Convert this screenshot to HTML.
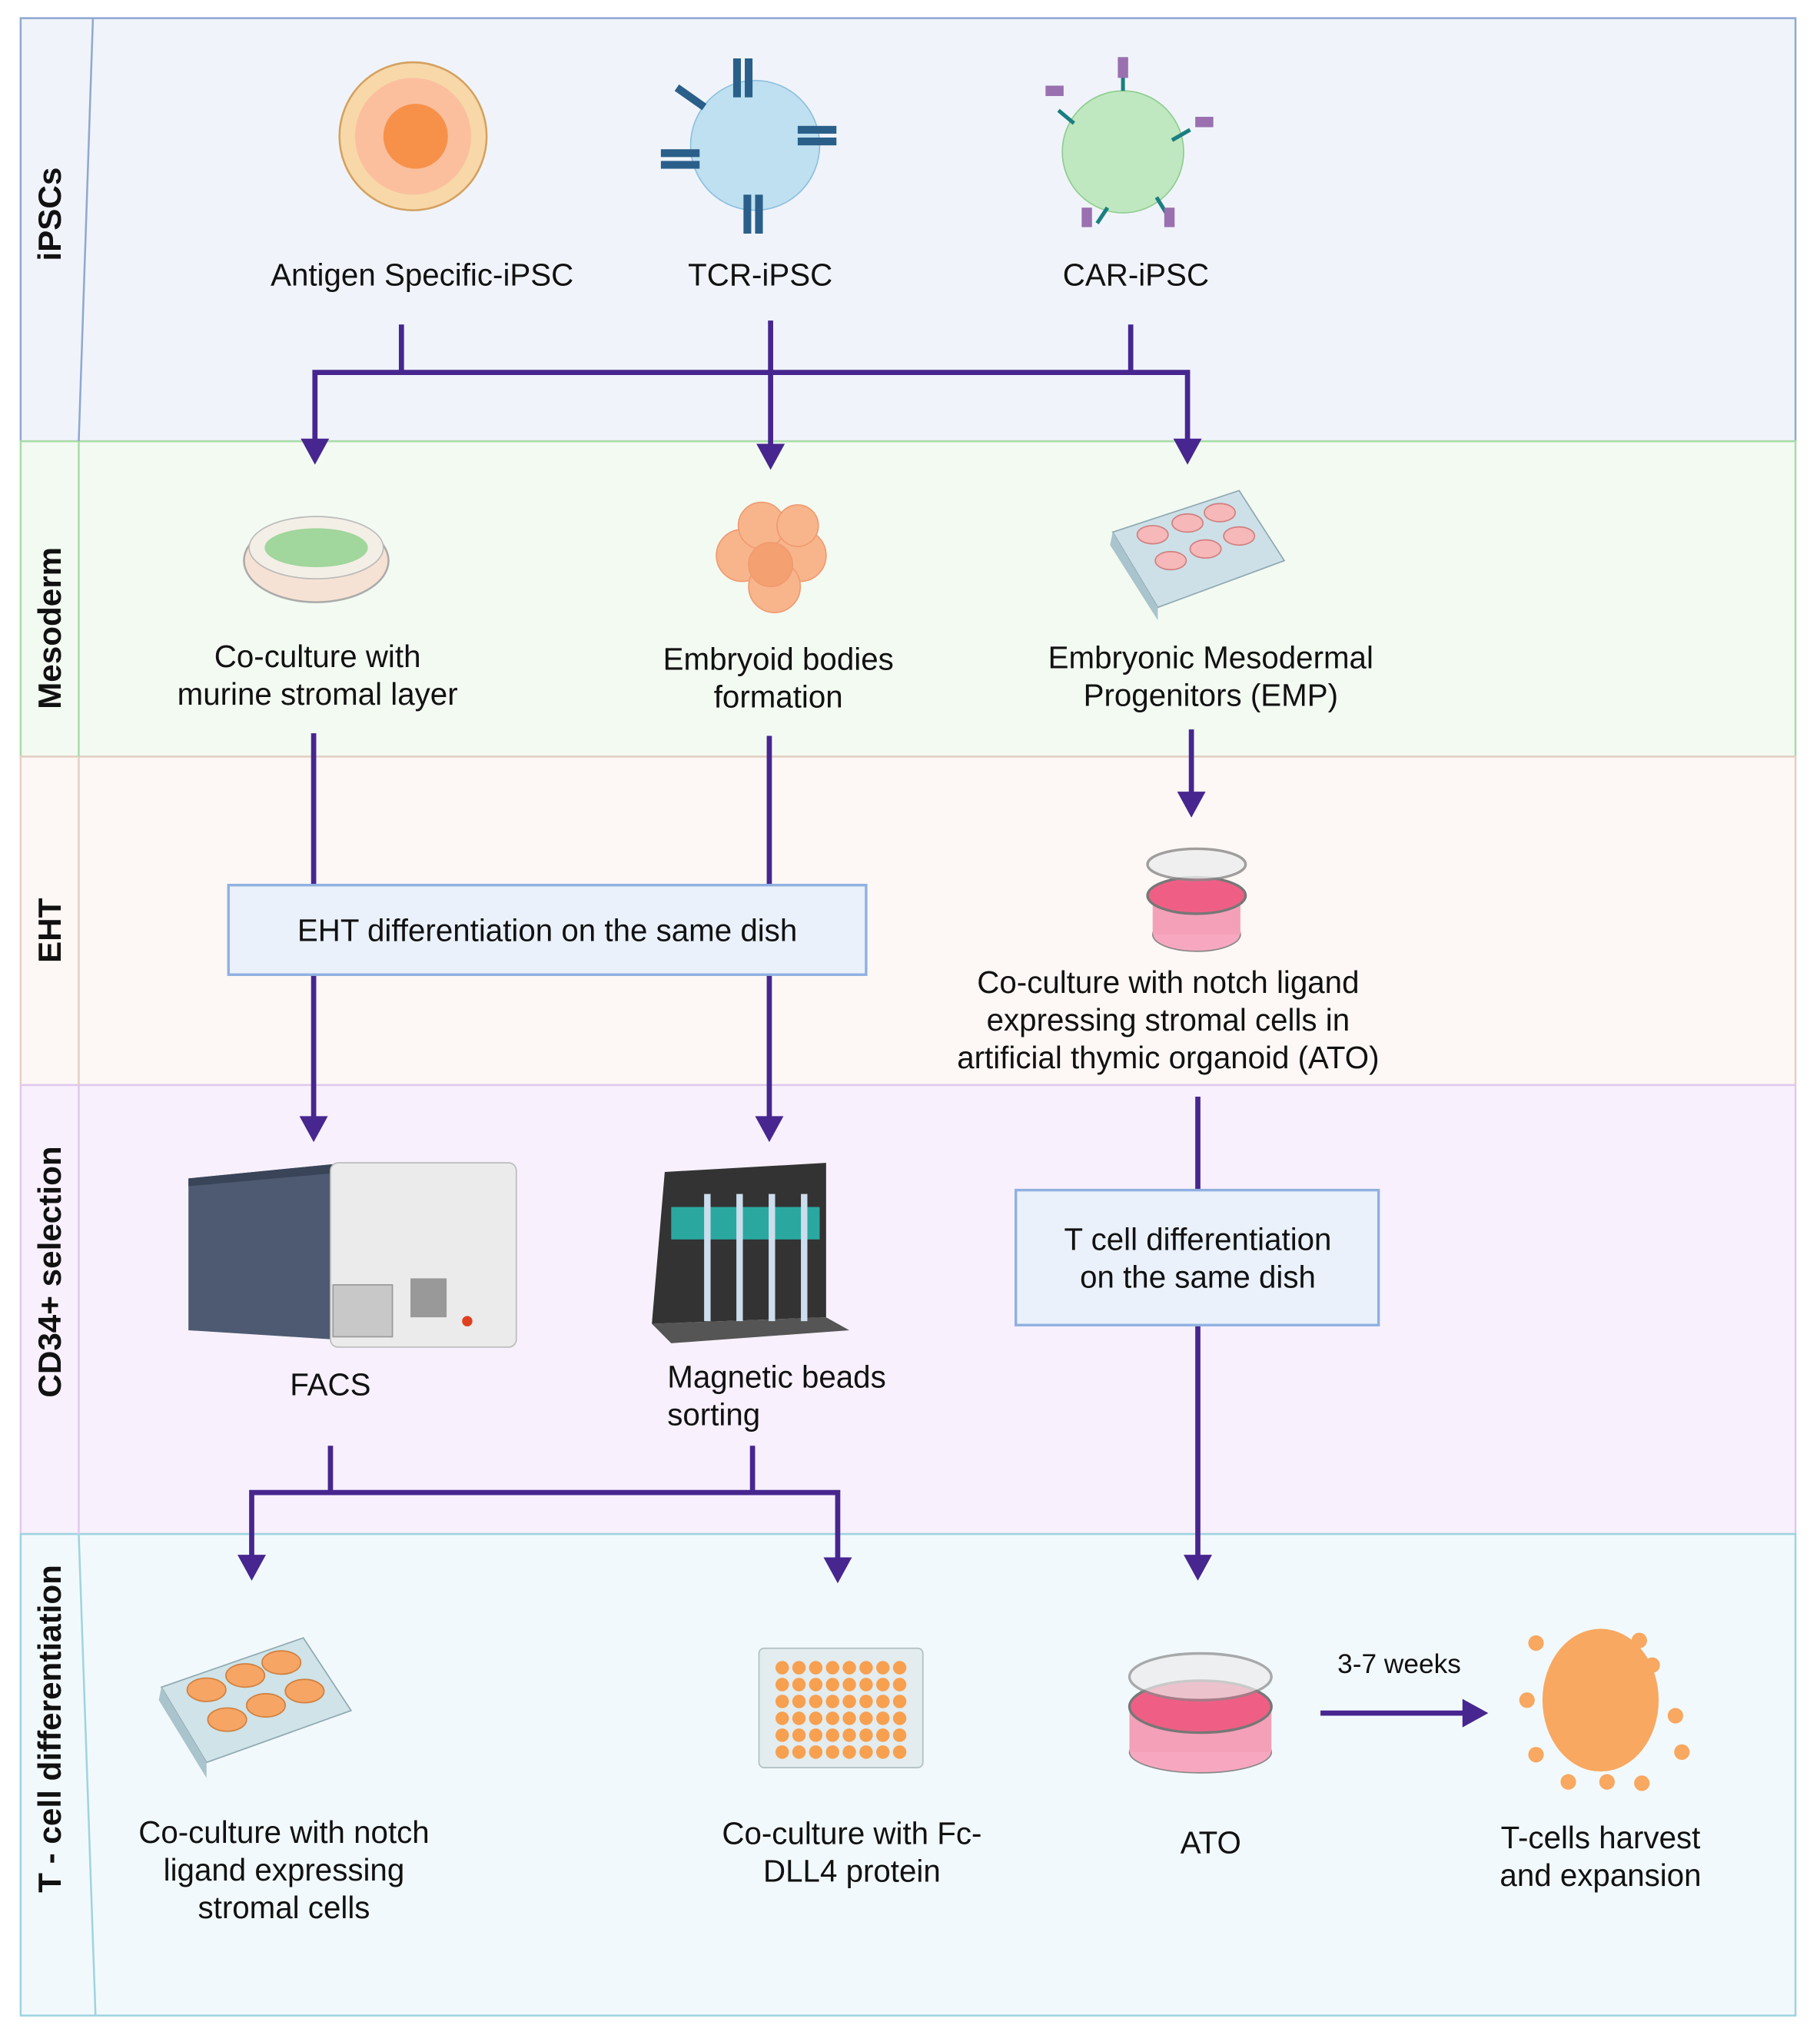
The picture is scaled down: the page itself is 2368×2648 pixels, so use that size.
<!DOCTYPE html>
<html><head><meta charset="utf-8"><style>
html,body{margin:0;padding:0;background:#fff;}
svg{display:block;}
text{font-family:"Liberation Sans",Arial,sans-serif;fill:#111;}
</style></head><body>
<svg width="2368" height="2648" viewBox="0 0 1410 1568" preserveAspectRatio="none" xmlns="http://www.w3.org/2000/svg">
<!-- lanes -->
<rect x="16" y="14" width="1375" height="326" fill="#f0f4fa" stroke="#8fa8d0" stroke-width="1.5"/>
<rect x="16" y="340" width="1375" height="243" fill="#f3faf2" stroke="#a8dca8" stroke-width="1.5"/>
<rect x="16" y="583" width="1375" height="253" fill="#fdf8f5" stroke="#e6cfc4" stroke-width="1.5"/>
<rect x="16" y="836" width="1375" height="346" fill="#f8f0fc" stroke="#e0c8ee" stroke-width="1.5"/>
<rect x="16" y="1182" width="1375" height="371" fill="#f2f9fc" stroke="#9ed4e0" stroke-width="1.5"/>
<line x1="72" y1="14" x2="61" y2="340" stroke="#8fa8d0" stroke-width="1.5"/>
<line x1="61" y1="340" x2="61" y2="583" stroke="#a8dca8" stroke-width="1.5"/>
<line x1="61" y1="583" x2="61" y2="836" stroke="#e6cfc4" stroke-width="1.5"/>
<line x1="61" y1="836" x2="61" y2="1182" stroke="#e0c8ee" stroke-width="1.5"/>
<line x1="61" y1="1182" x2="74" y2="1553" stroke="#9ed4e0" stroke-width="1.5"/>
<!-- lane labels -->
<g font-weight="bold" font-size="25" text-anchor="middle">
<text transform="translate(47,165) rotate(-90)">iPSCs</text>
<text transform="translate(47,484) rotate(-90)">Mesoderm</text>
<text transform="translate(47,717) rotate(-90)">EHT</text>
<text transform="translate(47,980) rotate(-90)">CD34+ selection</text>
<text transform="translate(47,1332) rotate(-90)">T - cell differentiation</text>
</g>

<!-- connectors -->
<g stroke="#47268f" stroke-width="4" fill="none">
<line x1="311" y1="250" x2="311" y2="287"/>
<line x1="876" y1="250" x2="876" y2="287"/>
<polyline points="244,340 244,287 920,287 920,340"/>
<line x1="597" y1="247" x2="597" y2="344"/>
<line x1="243" y1="565" x2="243" y2="682"/>
<line x1="596" y1="567" x2="596" y2="682"/>
<line x1="243" y1="751" x2="243" y2="862"/>
<line x1="596" y1="751" x2="596" y2="862"/>
<line x1="923" y1="562" x2="923" y2="612"/>
<line x1="928" y1="845" x2="928" y2="917"/>
<line x1="928" y1="1021" x2="928" y2="1200"/>
<line x1="256" y1="1114" x2="256" y2="1150"/>
<line x1="583" y1="1114" x2="583" y2="1150"/>
<polyline points="195,1200 195,1150 649,1150 649,1202"/>
<line x1="1023" y1="1320" x2="1135" y2="1320"/>
</g>
<g fill="#47268f">
<polygon points="233,338 255,338 244,358"/>
<polygon points="909,338 931,338 920,358"/>
<polygon points="586,342 608,342 597,362"/>
<polygon points="232,860 254,860 243,880"/>
<polygon points="585,860 607,860 596,880"/>
<polygon points="912,610 934,610 923,630"/>
<polygon points="917,1198 939,1198 928,1218"/>
<polygon points="184,1198 206,1198 195,1218"/>
<polygon points="638,1200 660,1200 649,1220"/>
<polygon points="1133,1309 1133,1331 1153,1320"/>
</g>

<!-- boxes -->
<rect x="177" y="682" width="494" height="69" fill="#eaf1fb" stroke="#8fb0e0" stroke-width="2"/>
<rect x="787" y="917" width="281" height="104" fill="#eaf1fb" stroke="#8fb0e0" stroke-width="2"/>

<!-- texts -->
<g font-size="24" text-anchor="middle">
<text x="327" y="220">Antigen Specific-iPSC</text>
<text x="589" y="220">TCR-iPSC</text>
<text x="880" y="220">CAR-iPSC</text>
<text x="246" y="514">Co-culture with</text>
<text x="246" y="543">murine stromal layer</text>
<text x="603" y="516">Embryoid bodies</text>
<text x="603" y="545">formation</text>
<text x="938" y="515">Embryonic Mesodermal</text>
<text x="938" y="544">Progenitors (EMP)</text>
<text x="424" y="725">EHT differentiation on the same dish</text>
<text x="905" y="765">Co-culture with notch ligand</text>
<text x="905" y="794">expressing stromal cells in</text>
<text x="905" y="823">artificial thymic organoid (ATO)</text>
<text x="928" y="963">T cell differentiation</text>
<text x="928" y="992">on the same dish</text>
<text x="256" y="1075">FACS</text>
<text x="220" y="1420">Co-culture with notch</text>
<text x="220" y="1449">ligand expressing</text>
<text x="220" y="1478">stromal cells</text>
<text x="660" y="1421">Co-culture with Fc-</text>
<text x="660" y="1450">DLL4 protein</text>
<text x="938" y="1428">ATO</text>
<text x="1240" y="1424">T-cells harvest</text>
<text x="1240" y="1453">and expansion</text>
<text x="1084" y="1289" font-size="21">3-7 weeks</text>
</g>
<text x="517" y="1069" font-size="24">Magnetic beads</text>
<text x="517" y="1098" font-size="24">sorting</text>

<!-- icons -->
<circle cx="320" cy="105" r="57" fill="#f8d8a8" stroke="#d4a060" stroke-width="1.5"/>
<circle cx="320" cy="105" r="45" fill="#fbbf9e"/>
<circle cx="322" cy="105" r="25" fill="#f7914a"/>
<circle cx="585" cy="112" r="50" fill="#bfe0f0" stroke="#8fc0e0"/>
<g fill="#2a5f8a">
<rect x="568" y="45" width="6" height="30"/><rect x="577" y="45" width="6" height="30"/>
<rect x="576" y="150" width="6" height="30"/><rect x="585" y="150" width="6" height="30"/>
<rect x="512" y="115" width="30" height="6"/><rect x="512" y="124" width="30" height="6"/>
<rect x="618" y="97" width="30" height="6"/><rect x="618" y="106" width="30" height="6"/>
<rect x="522" y="72" width="26" height="6" transform="rotate(35 535 75)"/>
</g>
<circle cx="870" cy="117" r="47" fill="#bfe8c0" stroke="#90cc90"/>
<g stroke="#1a7f80" stroke-width="3">
<line x1="870" y1="70" x2="870" y2="58"/><line x1="832" y1="95" x2="820" y2="85"/>
<line x1="908" y1="108" x2="922" y2="100"/><line x1="858" y1="160" x2="850" y2="172"/><line x1="896" y1="152" x2="904" y2="165"/>
</g>
<g fill="#9a70b0">
<rect x="866" y="44" width="8" height="16"/><rect x="810" y="66" width="14" height="8"/><rect x="926" y="90" width="14" height="8"/>
<rect x="838" y="160" width="8" height="15"/><rect x="902" y="160" width="8" height="15"/>
</g>
<ellipse cx="245" cy="432" rx="56" ry="32" fill="#f6e2d4" stroke="#aaa" stroke-width="1.5"/>
<ellipse cx="245" cy="422" rx="52" ry="24" fill="#f3efe6" stroke="#bbb"/>
<ellipse cx="245" cy="422" rx="40" ry="15" fill="#8ccf8a" opacity="0.8"/>
<g fill="#f8b58c" stroke="#f09a70">
<circle cx="575" cy="428" r="20"/><circle cx="620" cy="428" r="20"/><circle cx="590" cy="405" r="18"/><circle cx="618" cy="405" r="16"/><circle cx="600" cy="452" r="20"/><circle cx="597" cy="435" r="17" fill="#f5a070"/>
</g>
<polygon points="862,410 960,378 995,432 897,468" fill="#cde0e8" stroke="#8fa8b0"/>
<polygon points="862,410 897,468 897,478 860,420" fill="#a9c4cc"/>
<g fill="#f6b8b8" stroke="#d08080">
<ellipse cx="893" cy="412" rx="12" ry="7"/><ellipse cx="920" cy="403" rx="12" ry="7"/><ellipse cx="945" cy="395" rx="12" ry="7"/>
<ellipse cx="907" cy="432" rx="12" ry="7"/><ellipse cx="934" cy="423" rx="12" ry="7"/><ellipse cx="960" cy="413" rx="12" ry="7"/>
</g>
<ellipse cx="927" cy="720" rx="34" ry="13" fill="#f7a8c0" stroke="#888"/>
<rect x="893" y="690" width="68" height="30" fill="#f4a0b8"/>
<ellipse cx="927" cy="690" rx="38" ry="14" fill="#ef5f85" stroke="#777" stroke-width="2"/>
<ellipse cx="927" cy="666" rx="38" ry="12" fill="#eee" stroke="#888" stroke-width="2" opacity="0.8"/>
<polygon points="146,908 258,897 258,1032 146,1025" fill="#4d5a72"/>
<polygon points="146,908 258,897 258,904 146,914" fill="#3a4458"/>
<rect x="256" y="896" width="144" height="142" rx="6" fill="#ebebeb" stroke="#bbb"/>
<rect x="258" y="990" width="46" height="40" fill="#c8c8c8" stroke="#999"/>
<rect x="318" y="985" width="28" height="30" fill="#999"/>
<circle cx="362" cy="1018" r="4" fill="#e04020"/>
<polygon points="515,903 640,896 640,1015 505,1020" fill="#333"/>
<polygon points="505,1020 640,1015 658,1025 520,1035" fill="#555"/>
<rect x="520" y="930" width="115" height="25" fill="#2aa8a0"/>
<g stroke="#cde" stroke-width="5">
<line x1="548" y1="920" x2="548" y2="1018"/><line x1="573" y1="920" x2="573" y2="1018"/><line x1="598" y1="920" x2="598" y2="1018"/><line x1="623" y1="920" x2="623" y2="1018"/>
</g>
<polygon points="125,1300 235,1262 272,1318 160,1358" fill="#cfe3e8" stroke="#8fa8b0"/>
<polygon points="125,1300 160,1358 160,1370 123,1310" fill="#a9c4cc"/>
<g fill="#f7a564" stroke="#d08040">
<ellipse cx="160" cy="1302" rx="15" ry="9"/><ellipse cx="190" cy="1291" rx="15" ry="9"/><ellipse cx="218" cy="1281" rx="15" ry="9"/>
<ellipse cx="176" cy="1325" rx="15" ry="9"/><ellipse cx="206" cy="1314" rx="15" ry="9"/><ellipse cx="236" cy="1303" rx="15" ry="9"/>
</g>
<rect x="588" y="1270" width="127" height="92" rx="4" fill="#e3ecee" stroke="#b0c0c4"/>
<g fill="#f7a050">
<circle cx="606" cy="1285" r="5.2"/><circle cx="619" cy="1285" r="5.2"/><circle cx="632" cy="1285" r="5.2"/><circle cx="645" cy="1285" r="5.2"/><circle cx="658" cy="1285" r="5.2"/><circle cx="671" cy="1285" r="5.2"/><circle cx="684" cy="1285" r="5.2"/><circle cx="697" cy="1285" r="5.2"/>
<circle cx="606" cy="1298" r="5.2"/><circle cx="619" cy="1298" r="5.2"/><circle cx="632" cy="1298" r="5.2"/><circle cx="645" cy="1298" r="5.2"/><circle cx="658" cy="1298" r="5.2"/><circle cx="671" cy="1298" r="5.2"/><circle cx="684" cy="1298" r="5.2"/><circle cx="697" cy="1298" r="5.2"/>
<circle cx="606" cy="1311" r="5.2"/><circle cx="619" cy="1311" r="5.2"/><circle cx="632" cy="1311" r="5.2"/><circle cx="645" cy="1311" r="5.2"/><circle cx="658" cy="1311" r="5.2"/><circle cx="671" cy="1311" r="5.2"/><circle cx="684" cy="1311" r="5.2"/><circle cx="697" cy="1311" r="5.2"/>
<circle cx="606" cy="1324" r="5.2"/><circle cx="619" cy="1324" r="5.2"/><circle cx="632" cy="1324" r="5.2"/><circle cx="645" cy="1324" r="5.2"/><circle cx="658" cy="1324" r="5.2"/><circle cx="671" cy="1324" r="5.2"/><circle cx="684" cy="1324" r="5.2"/><circle cx="697" cy="1324" r="5.2"/>
<circle cx="606" cy="1337" r="5.2"/><circle cx="619" cy="1337" r="5.2"/><circle cx="632" cy="1337" r="5.2"/><circle cx="645" cy="1337" r="5.2"/><circle cx="658" cy="1337" r="5.2"/><circle cx="671" cy="1337" r="5.2"/><circle cx="684" cy="1337" r="5.2"/><circle cx="697" cy="1337" r="5.2"/>
<circle cx="606" cy="1350" r="5.2"/><circle cx="619" cy="1350" r="5.2"/><circle cx="632" cy="1350" r="5.2"/><circle cx="645" cy="1350" r="5.2"/><circle cx="658" cy="1350" r="5.2"/><circle cx="671" cy="1350" r="5.2"/><circle cx="684" cy="1350" r="5.2"/><circle cx="697" cy="1350" r="5.2"/>
</g>
<ellipse cx="930" cy="1350" rx="55" ry="16" fill="#f7a8c0" stroke="#888"/>
<rect x="875" y="1315" width="110" height="35" fill="#f3a0b8"/>
<ellipse cx="930" cy="1315" rx="55" ry="20" fill="#ef5f85" stroke="#777" stroke-width="2"/>
<ellipse cx="930" cy="1292" rx="55" ry="18" fill="#ececec" stroke="#888" stroke-width="2" opacity="0.7"/>
<ellipse cx="1240" cy="1310" rx="45" ry="55" fill="#f8a860"/>
<g fill="#f8a860">
<circle cx="1190" cy="1266" r="6"/><circle cx="1270" cy="1264" r="6"/><circle cx="1183" cy="1310" r="6"/><circle cx="1298" cy="1322" r="6"/><circle cx="1190" cy="1352" r="6"/><circle cx="1215" cy="1373" r="6"/><circle cx="1272" cy="1374" r="6"/><circle cx="1303" cy="1350" r="6"/><circle cx="1280" cy="1283" r="6"/><circle cx="1245" cy="1373" r="6"/>
</g>
</svg>
</body></html>
